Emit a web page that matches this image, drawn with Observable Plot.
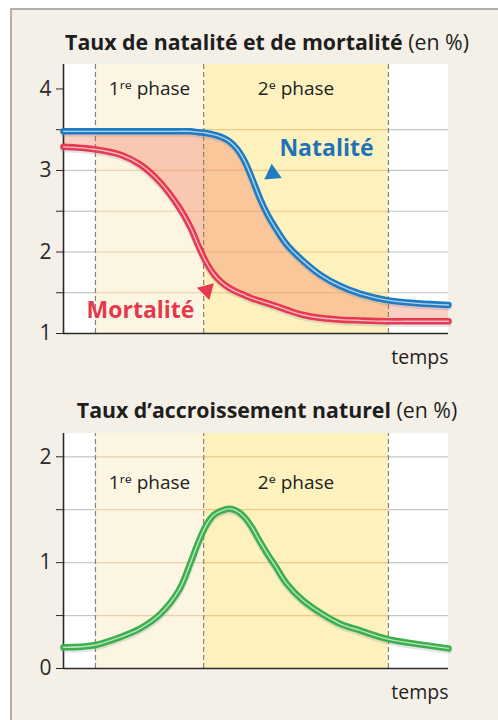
<!DOCTYPE html>
<html>
<head>
<meta charset="utf-8">
<script src="https://cdn.jsdelivr.net/npm/d3@7"></script>
<script src="https://cdn.jsdelivr.net/npm/@observablehq/plot@0.6"></script>
<style>
  html, body { margin: 0; padding: 0; background: #ffffff; }
  body { width: 498px; height: 720px; position: relative; overflow: hidden; font-family: 'Open Sans', 'Noto Sans', sans-serif; }
  #panel { position: absolute; left: 10px; top: 8px; width: 500px; height: 720px; background: #f4f0e8; border-left: 2px solid #b3afa8; border-top: 2px solid #b3afa8; }
  .title { position: absolute; left: 0; width: 534px; text-align: center; font-size: 21.3px; color: #1e1e1e; white-space: nowrap; line-height: 1; }
  .title b { font-weight: 700; }
  .chart { position: absolute; left: 0; }
</style>
</head>
<body>
<div id="panel"></div>
<div class="title" id="t1" style="top:31px"><b>Taux de natalité et de mortalité</b> (en %)</div>
<div id="c1" class="chart" style="top:60px"></div>
<div class="title" id="t2" style="top:399px"><b>Taux d’accroissement naturel</b> (en %)</div>
<div id="c2" class="chart" style="top:425px"></div>
<script>
// ---- data ----
const temps        = [0, 8, 15, 20, 25, 30, 33, 35, 37, 39, 41, 43, 45, 47, 49, 51, 53, 55, 58, 62, 67, 72, 77, 84, 92, 100];
const natalite     = [3.48, 3.48, 3.48, 3.48, 3.48, 3.48, 3.48, 3.47, 3.46, 3.44, 3.41, 3.36, 3.27, 3.12, 2.90, 2.66, 2.46, 2.30, 2.09, 1.90, 1.71, 1.58, 1.49, 1.41, 1.37, 1.35];
const mortalite    = [3.29, 3.26, 3.19, 3.07, 2.86, 2.55, 2.30, 2.08, 1.88, 1.73, 1.63, 1.56, 1.51, 1.47, 1.43, 1.40, 1.37, 1.34, 1.29, 1.23, 1.19, 1.17, 1.16, 1.15, 1.15, 1.15];
const accroissement= [0.20, 0.22, 0.30, 0.38, 0.51, 0.74, 1.00, 1.19, 1.35, 1.45, 1.49, 1.51, 1.49, 1.43, 1.33, 1.20, 1.08, 0.97, 0.80, 0.65, 0.52, 0.42, 0.36, 0.28, 0.23, 0.19];
const phaseBounds  = [0, 8.3, 36.4, 84.4, 100];
const phaseLabels  = ["1ʳᵉ phase", "2ᵉ phase"];
const yTicks1      = [1, 1.5, 2, 2.5, 3, 3.5, 4];
const yTicks2      = [0, 0.5, 1, 1.5, 2];
const grid1        = [1.5, 2, 2.5, 3, 3.5];
const grid2        = [0.5, 1, 1.5, 2];
const xLabel       = "temps";

// ---- derived tables ----
const rows = temps.map((t, i) => ({t, n: natalite[i], m: mortalite[i], a: accroissement[i]}));
const kinds = ["blank", "p1", "p2", "blank"];
const regions = kinds.map((k, i) => ({x1: phaseBounds[i], x2: phaseBounds[i + 1], kind: k}));
const regionFill = {blank: "#ffffff", p1: "#fcf5e2", p2: "#fdf2be"};
const gridStroke = {blank: "#c3c4cc", p1: "#ead2a6", p2: "#efc886"};
const dividers = phaseBounds.slice(1, 4);
const phaseMid = [ (phaseBounds[1] + phaseBounds[2]) / 2, (phaseBounds[2] + phaseBounds[3]) / 2 ];
const FONT = "'Open Sans', 'Noto Sans', sans-serif";
const CURVE = "catmull-rom";

function doubleLine(key, color) {
  return [
    Plot.line(rows, {x: "t", y: key, stroke: "#7f86a0", strokeOpacity: 0.22, strokeWidth: 7, dy: 2, curve: CURVE}),
    Plot.line(rows, {x: "t", y: key, stroke: color, strokeWidth: 6.5, curve: CURVE}),
    Plot.line(rows, {x: "t", y: key, stroke: "#ffffff", strokeOpacity: 0.65, strokeWidth: 1.4, curve: CURVE})
  ];
}

function frame(ymin, ymax, grid) {
  const gridRows = grid.flatMap(g => regions.map(r => ({...r, y: g})));
  return [
    Plot.rect(regions, {x1: "x1", x2: "x2", y1: () => ymin, y2: () => ymax, fill: d => regionFill[d.kind]}),
    Plot.ruleY(gridRows, {x1: "x1", x2: "x2", y: "y", stroke: d => gridStroke[d.kind], strokeWidth: 1.2})
  ];
}

function axes(ymin, ymax, ticks) {
  return [
    Plot.ruleX(dividers, {y1: () => ymin, y2: () => ymax, stroke: "#8c8070", strokeDasharray: "5,3", strokeWidth: 1.2}),
    Plot.axisY(ticks, {tickSize: 7, tickPadding: 5, fontSize: 21, color: "#2a2a2a", stroke: "#2a2a2a",
      tickFormat: d => Number.isInteger(d) ? String(d) : "", label: null}),
    Plot.ruleX([0], {y1: () => ymin, y2: () => ymax, stroke: "#2a2a2a", strokeWidth: 1.6}),
    Plot.ruleY([ymin], {stroke: "#2a2a2a", strokeWidth: 1.6}),
    Plot.text([xLabel], {x: () => 100, y: () => ymin, dy: 24, textAnchor: "end", fontSize: 19.5, fill: "#1e1e1e"})
  ];
}

// ---- chart 1 ----
const y1min = 1, y1max = 4.3;
const chart1 = Plot.plot({
  width: 498, height: 310,
  marginLeft: 63, marginRight: 50, marginTop: 4, marginBottom: 37,
  x: {domain: [0, 100], axis: null},
  y: {domain: [y1min, y1max], axis: null},
  style: {background: "transparent", fontFamily: FONT, overflow: "visible"},
  marks: [
    ...frame(y1min, y1max, grid1),
    Plot.areaY(rows, {x: "t", y1: "m", y2: "n", fill: "#f0795c", fillOpacity: 0.36, curve: CURVE}),
    ...axes(y1min, y1max, yTicks1),
    Plot.text(phaseLabels, {x: (d, i) => phaseMid[i], y: () => 4.0, fontSize: 19, fill: "#222"}),
    ...doubleLine("m", "#e63a52"),
    ...doubleLine("n", "#1f7cc3"),
    Plot.text(["Natalité"], {x: () => 68.3, y: () => 3.27, fontSize: 23, fontWeight: "bold", fill: "#1f72b8"}),
    Plot.text(["Mortalité"], {x: () => 20, y: () => 1.28, fontSize: 23, fontWeight: "bold", fill: "#e3394f"}),
    Plot.dot(["n"], {x: () => 54.3, y: () => 2.96, symbol: "triangle", r: 6.5, rotate: 235, fill: "#1f7cc3", stroke: "none"}),
    Plot.dot(["m"], {x: () => 37.2, y: () => 1.53, symbol: "triangle", r: 6.5, rotate: 45, fill: "#e63a52", stroke: "none"})
  ]
});
document.getElementById("c1").appendChild(chart1);

// ---- chart 2 ----
const y2min = 0, y2max = 2.22;
const chart2 = Plot.plot({
  width: 498, height: 290,
  marginLeft: 63, marginRight: 50, marginTop: 8, marginBottom: 47,
  x: {domain: [0, 100], axis: null},
  y: {domain: [y2min, y2max], axis: null},
  style: {background: "transparent", fontFamily: FONT, overflow: "visible"},
  marks: [
    ...frame(y2min, y2max, grid2),
    ...axes(y2min, y2max, yTicks2),
    Plot.text(phaseLabels, {x: (d, i) => phaseMid[i], y: () => 1.75, fontSize: 19, fill: "#222"}),
    ...doubleLine("a", "#3cb04c")
  ]
});
document.getElementById("c2").appendChild(chart2);
</script>
</body>
</html>
